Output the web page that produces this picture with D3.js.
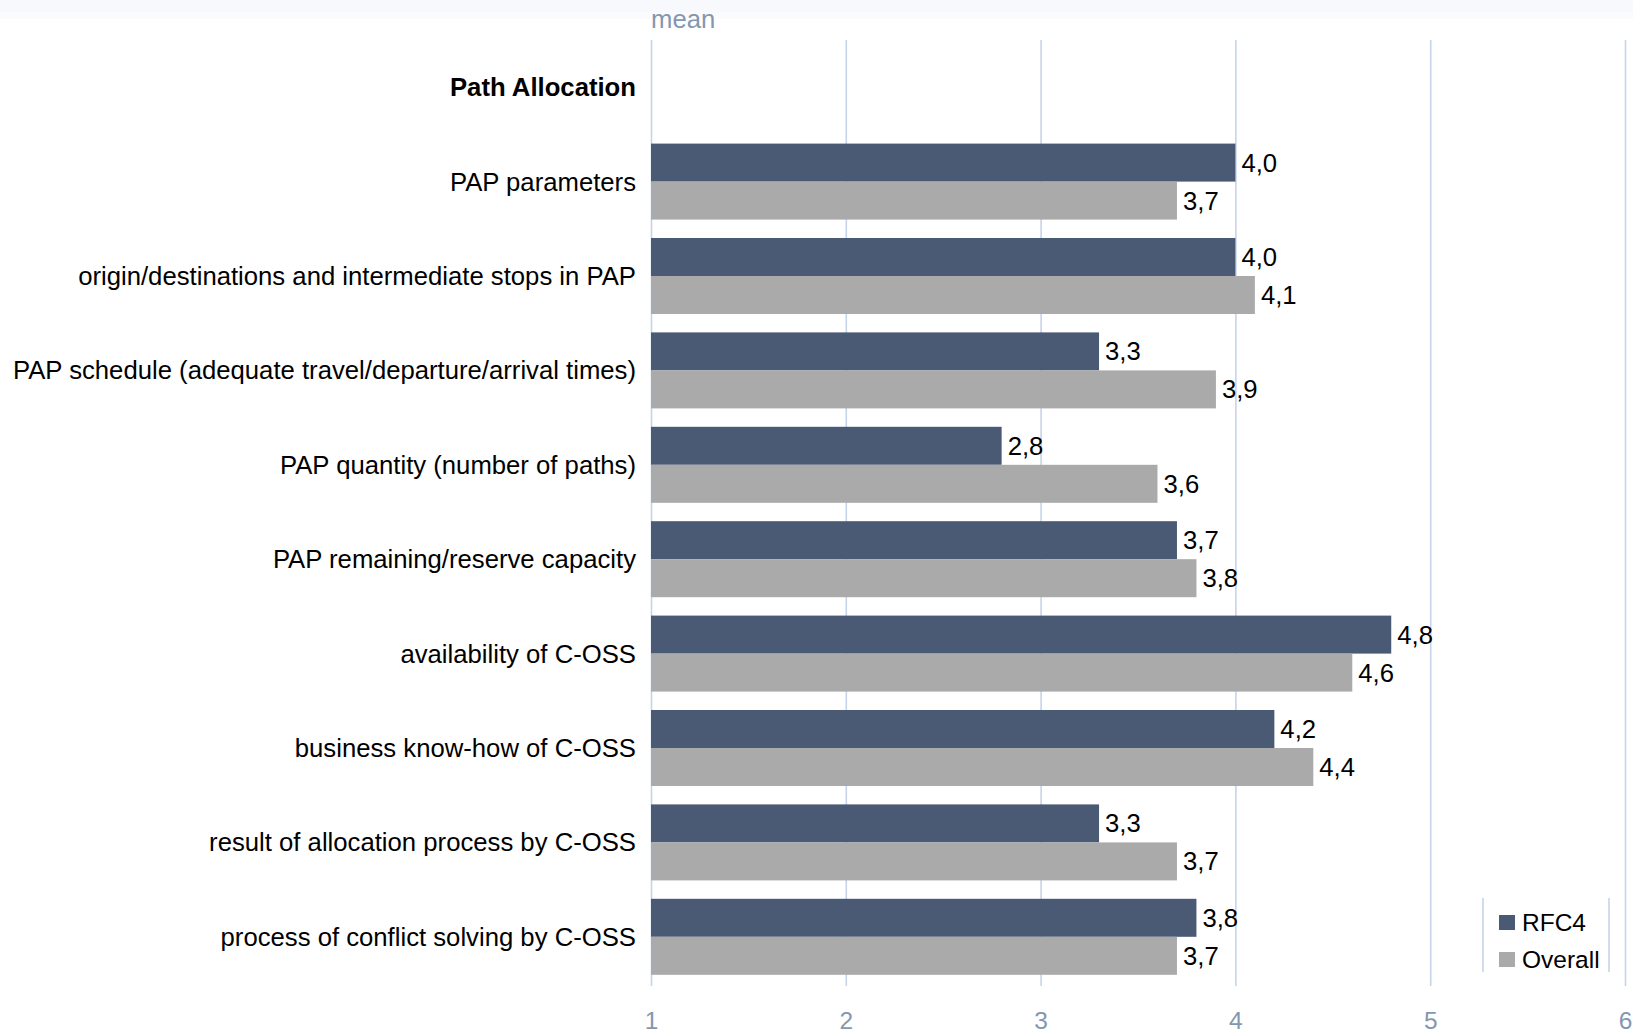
<!DOCTYPE html>
<html>
<head>
<meta charset="utf-8">
<script src="https://cdn.jsdelivr.net/npm/d3@7"></script>
<style>
  html, body { margin: 0; padding: 0; background: #ffffff; }
  svg { display: block; font-family: "Liberation Sans", Arial, sans-serif; }
</style>
</head>
<body>
<svg id="chart" width="1633" height="1035"></svg>
<script>
// Survey means, Path Allocation section
const categories = [
  "Path Allocation",
  "PAP parameters",
  "origin/destinations and intermediate stops in PAP",
  "PAP schedule (adequate travel/departure/arrival times)",
  "PAP quantity (number of paths)",
  "PAP remaining/reserve capacity",
  "availability of C-OSS",
  "business know-how of C-OSS",
  "result of allocation process by C-OSS",
  "process of conflict solving by C-OSS"
];
const headerCategories = ["Path Allocation"];
const seriesNames = ["RFC4", "Overall"];
const rfc4Values    = [null, 4.0, 4.0, 3.3, 2.8, 3.7, 4.8, 4.2, 3.3, 3.8];
const overallValues = [null, 3.7, 4.1, 3.9, 3.6, 3.8, 4.6, 4.4, 3.7, 3.7];
const tickValues = [1, 2, 3, 4, 5, 6];
const axisTitle = "mean";

const colors = { RFC4: "#4a5a74", Overall: "#aaaaaa" };
const gridColor = "#c6d4ea";
const tickColor = "#8497b0";
const labelSize = 25.7;

const svg = d3.select("#chart");

// faint band across the top edge
svg.append("rect").attr("x", 0).attr("y", 0).attr("width", 1633).attr("height", 12).attr("fill", "#f8f9fc");
svg.append("rect").attr("x", 0).attr("y", 12).attr("width", 1633).attr("height", 7).attr("fill", "#fbfbfd");

const x = d3.scaleLinear().domain([1, 6]).range([651, 1625]);
const y = d3.scaleBand().domain(categories).range([40, 984]).padding(0);
const ySeries = d3.scaleBand().domain(seriesNames).range([0, y.bandwidth()]).paddingInner(0).paddingOuter(0.242);

const gridTop = 40, gridBottom = 986;

// vertical gridlines
svg.append("g")
  .attr("transform", `translate(0,${gridTop})`)
  .call(d3.axisBottom(x).tickValues(tickValues).tickSize(gridBottom - gridTop).tickFormat(""))
  .call(g => g.select(".domain").remove())
  .call(g => g.selectAll(".tick line").attr("stroke", gridColor).attr("stroke-width", 1.6));

// tick labels
svg.append("g")
  .attr("transform", `translate(0,1012)`)
  .call(d3.axisBottom(x).tickValues(tickValues).tickSize(0).tickFormat(d3.format("d")))
  .call(g => g.select(".domain").remove())
  .call(g => g.selectAll(".tick text")
    .attr("fill", tickColor)
    .attr("font-size", 24.5)
    .attr("font-family", "Liberation Sans, Arial, sans-serif")
    .attr("dy", "0.71em")
    .attr("y", 0));

svg.append("text")
  .attr("x", x(1))
  .attr("y", 28)
  .attr("fill", tickColor)
  .attr("font-size", labelSize)
  .text(axisTitle);

// category labels
svg.append("g").selectAll("text")
  .data(categories)
  .join("text")
  .attr("x", 636)
  .attr("y", d => y(d) + y.bandwidth() / 2)
  .attr("dy", "0.35em")
  .attr("text-anchor", "end")
  .attr("font-size", labelSize)
  .attr("font-weight", d => headerCategories.includes(d) ? "bold" : "normal")
  .attr("fill", "#000000")
  .text(d => d);

const rows = [];
categories.forEach((c, i) => {
  if (rfc4Values[i] != null) rows.push({ cat: c, series: "RFC4", value: rfc4Values[i] });
  if (overallValues[i] != null) rows.push({ cat: c, series: "Overall", value: overallValues[i] });
});

const fmt = d3.formatLocale({ decimal: ",", thousands: ".", grouping: [3], currency: ["", " €"] }).format(".1f");

svg.append("g").selectAll("rect")
  .data(rows)
  .join("rect")
  .attr("x", x(1))
  .attr("y", d => y(d.cat) + ySeries(d.series))
  .attr("width", d => x(d.value) - x(1))
  .attr("height", ySeries.bandwidth())
  .attr("fill", d => colors[d.series]);

svg.append("g").selectAll("text")
  .data(rows)
  .join("text")
  .attr("x", d => x(d.value) + 6)
  .attr("y", d => y(d.cat) + ySeries(d.series) + ySeries.bandwidth() / 2)
  .attr("dy", "0.35em")
  .attr("font-size", labelSize)
  .attr("fill", "#000000")
  .text(d => fmt(d.value));

// legend
const legend = svg.append("g");
legend.append("line").attr("x1", 1483).attr("x2", 1483).attr("y1", 898).attr("y2", 972)
  .attr("stroke", gridColor).attr("stroke-width", 1.6);
legend.append("line").attr("x1", 1609).attr("x2", 1609).attr("y1", 898).attr("y2", 972)
  .attr("stroke", gridColor).attr("stroke-width", 1.6);
const legendItems = legend.selectAll("g.item")
  .data(seriesNames)
  .join("g")
  .attr("class", "item")
  .attr("transform", (d, i) => `translate(1499,${915 + i * 37})`);
legendItems.append("rect").attr("width", 16).attr("height", 15).attr("fill", d => colors[d]);
legendItems.append("text")
  .attr("x", 23).attr("y", 7.5).attr("dy", "0.35em")
  .attr("font-size", 24.5).attr("fill", "#000000")
  .text(d => d);
</script>
</body>
</html>
